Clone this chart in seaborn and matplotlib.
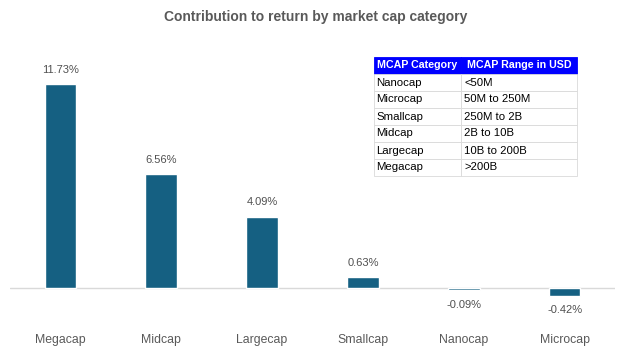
import matplotlib
matplotlib.use('Agg')
import matplotlib.pyplot as plt
import seaborn as sns

categories = ['Megacap', 'Midcap', 'Largecap', 'Smallcap', 'Nanocap', 'Microcap']
contribution = [11.73, 6.56, 4.09, 0.63, -0.09, -0.42]

table_header = ['MCAP Category', 'MCAP Range in USD']
table_category = ['Nanocap', 'Microcap', 'Smallcap', 'Midcap', 'Largecap', 'Megacap']
table_range = ['<50M', '50M to 250M', '250M to 2B', '2B to 10B', '10B to 200B', '>200B']

sns.set_style('white')
plt.rcParams['font.family'] = ['Liberation Sans Narrow', 'Liberation Sans', 'DejaVu Sans']

W, H = 631, 353
fig = plt.figure(figsize=(W / 100, H / 100), dpi=100)
ax = fig.add_axes([10 / W, (H - 323) / H, 605 / W, 278 / H])

sns.barplot(x=categories, y=contribution, color='#156082', width=0.315,
            saturation=1, ax=ax)
ax.bar_label(ax.containers[0], labels=[f'{v:.2f}%' for v in contribution],
             padding=7, fontsize=8, color='#505050')
ax.axhline(0, color='#D9D9D9', lw=1, zorder=0)
ax.set_ylim(-2, 14)
ax.set_xlim(-0.5, 5.5)
sns.despine(ax=ax, left=True, bottom=True)
ax.set_yticks([])
ax.tick_params(axis='x', length=0, pad=8, labelsize=8.8, labelcolor='#595959')
ax.set_xlabel('')
ax.set_ylabel('')

fig.text(0.5, (H - 17) / H, 'Contribution to return by market cap category',
         ha='center', va='center', fontsize=10, fontweight='bold', color='#595959')

# lookup table
tax = fig.add_axes([374 / W, (H - 176) / H, 203 / W, 119 / H])
tax.axis('off')
rows = [[c, r] for c, r in zip(table_category, table_range)]
tbl = tax.table(cellText=rows, colLabels=table_header, bbox=[0, 0, 1, 1],
                cellLoc='left', colWidths=[87 / 203, 116 / 203])
tbl.auto_set_font_size(False)
for (r, c), cell in tbl.get_celld().items():
    cell.set_edgecolor('#D9D9D9')
    cell.set_linewidth(0.6)
    cell.PAD = 0.03
    cell.set_text_props(fontsize=8.2, color='black')
    if r == 0:
        cell.set_facecolor('#0000FF')
        cell.set_edgecolor('#0000FF')
        cell.set_text_props(color='white', fontweight='bold', fontsize=7.7)

fig.savefig('out.png', dpi=100)
